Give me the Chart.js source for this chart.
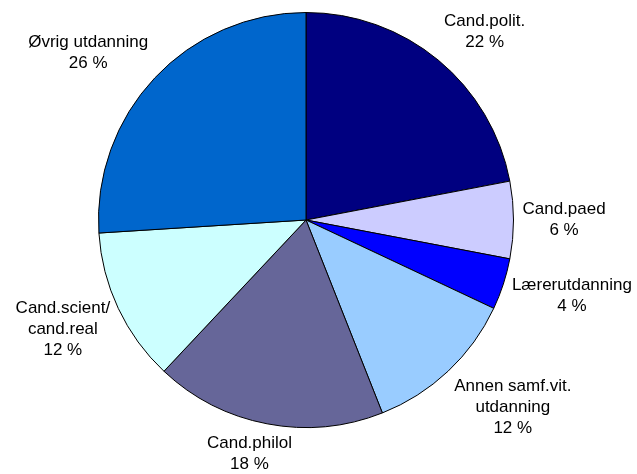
<!DOCTYPE html>
<html>
<head>
<meta charset="utf-8">
<script src="https://cdn.jsdelivr.net/npm/chart.js@4/dist/chart.umd.min.js"></script>
<style>
  html, body { margin: 0; padding: 0; background: #fff; }
  #wrap { width: 637px; height: 474px; }
</style>
</head>
<body>
<div id="wrap"><canvas id="myChart" width="637" height="474"></canvas></div>
<script>
const labels = ['Cand.polit.', 'Cand.paed', 'Lærerutdanning', 'Annen samf.vit.\nutdanning',
                'Cand.philol', 'Cand.scient/\ncand.real', 'Øvrig utdanning'];
const shares = [22, 6, 4, 12, 18, 12, 26];
const colors = ['#000080', '#CCCCFF', '#0000FF', '#99CCFF', '#666699', '#CCFFFF', '#0066CC'];

const FONT = '17px "Liberation Sans", Arial, sans-serif';
const LINE_H = 21;

// labels outside each slice, like the spreadsheet "outside end" labels
const sliceLabels = {
    id: 'sliceLabels',
    afterDatasetsDraw(chart) {
        const ctx = chart.ctx;
        const meta = chart.getDatasetMeta(0);
        const clamp = v => Math.max(-1, Math.min(1, v));
        ctx.save();
        ctx.font = FONT;
        ctx.fillStyle = '#000';
        ctx.textAlign = 'center';
        ctx.textBaseline = 'middle';
        meta.data.forEach((arc, i) => {
            const lines = labels[i].split('\n').concat([shares[i] + ' %']);
            const mid = (arc.startAngle + arc.endAngle) / 2;
            const dx = Math.cos(mid), dy = Math.sin(mid);
            const r = arc.outerRadius + 9;
            let w = 0;
            lines.forEach(l => { w = Math.max(w, ctx.measureText(l).width); });
            const hw = w / 2, hh = lines.length * LINE_H / 2;
            const cx = arc.x + r * dx + hw * clamp(dx * 2);
            const cy = arc.y + r * dy + hh * clamp(dy * 1.3);
            lines.forEach((l, k) => {
                ctx.fillText(l, cx, cy - hh + LINE_H / 2 + k * LINE_H);
            });
        });
        ctx.restore();
    }
};

const ctx = document.getElementById('myChart').getContext('2d');
const myChart = new Chart(ctx, {
    type: 'pie',
    data: {
        labels: labels,
        datasets: [{
            data: shares,
            backgroundColor: colors,
            borderColor: '#000',
            borderWidth: 1
        }]
    },
    options: {
        responsive: false,
        animation: false,
        layout: { padding: { left: 98, right: 123, top: 12, bottom: 46 } },
        plugins: {
            legend: { display: false },
            tooltip: { enabled: false }
        }
    },
    plugins: [sliceLabels]
});
</script>
</body>
</html>
